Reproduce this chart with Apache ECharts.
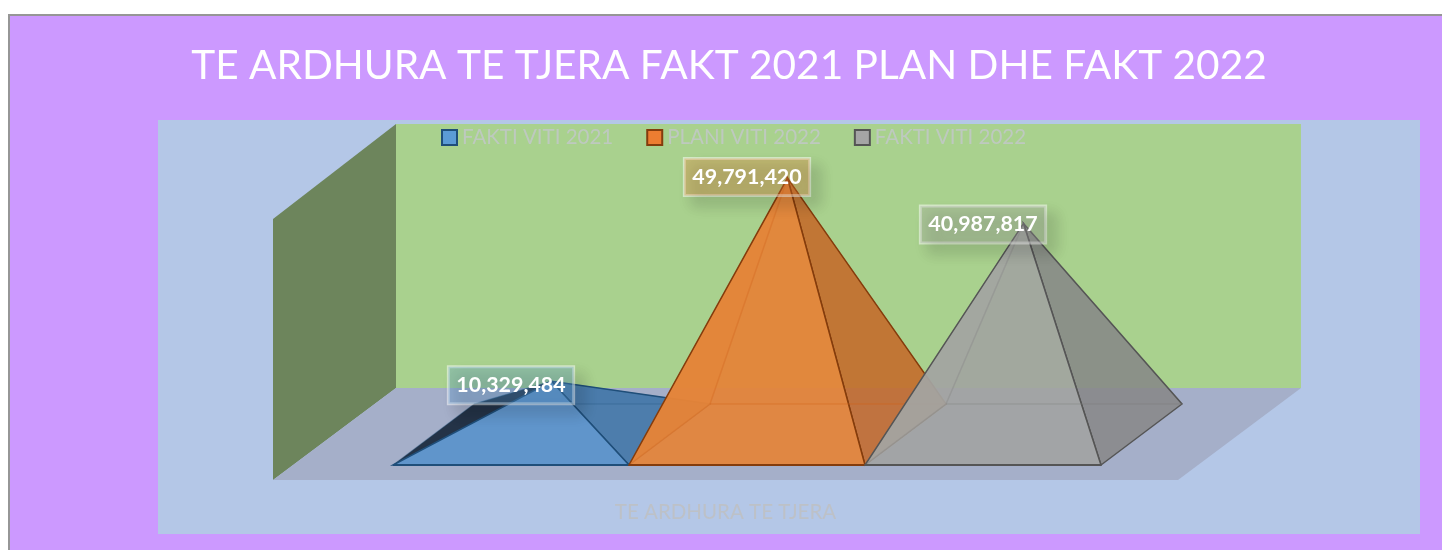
<!DOCTYPE html>
<html>
<head>
<meta charset="utf-8">
<style>
html,body{margin:0;padding:0;background:#fff;}
#chart{width:1442px;height:550px;}
</style>
<script src="https://cdn.jsdelivr.net/npm/echarts@6/dist/echarts.min.js"></script>
</head>
<body>
<div id="chart"></div>
<script>
var chartTitle = 'TE ARDHURA TE TJERA FAKT 2021 PLAN DHE FAKT 2022';
var categories = ['TE ARDHURA TE TJERA'];
var seriesNames = ['FAKTI VITI 2021', 'PLANI VITI 2022', 'FAKTI VITI 2022'];
var faktMs2021 = [10329484];
var planMs2022 = [49791420];
var faktMs2022 = [40987817];

// ngjyrat e piramidave
var looks = [
    {front: 'rgba(92,148,203,.95)', side: 'rgba(68,120,168,.9)', left: 'rgba(25,40,60,.92)', back: 'rgba(60,110,160,.3)', edge: '#1f4e79', inner: 'rgba(31,78,121,.2)', legend: '#5b9bd5', box: 'rgba(91,155,213,.3)', nudge: 4},
    {front: 'rgba(229,131,55,.92)', side: 'rgba(196,105,40,.85)', left: 'rgba(229,131,60,.6)', back: 'rgba(190,95,35,.12)', edge: '#843c0c', inner: 'rgba(205,100,30,.3)', legend: '#ed7d31', box: 'rgba(237,125,49,.3)', nudge: -1},
    {front: 'rgba(162,163,160,.88)', side: 'rgba(135,135,135,.85)', left: 'rgba(180,175,170,.5)', back: 'rgba(125,125,125,.1)', edge: '#555555', inner: 'rgba(125,125,125,.25)', legend: '#a5a5a5', box: 'rgba(165,165,165,.3)', nudge: 1}
];
var depthX = 81, depthY = 61;

function pyramid(idx) {
    return function (params, api) {
        var look = looks[idx];
        var center = api.coord([0, 0]);
        var top = api.coord([0, api.value(1)]);
        var w = api.size([1, 0])[0] / 3;
        var cx = center[0] + (idx - 1) * w;
        var cy = center[1];
        var fl = [cx - w / 2, cy + depthY / 2];
        var fr = [cx + w / 2, cy + depthY / 2];
        var bl = [fl[0] + depthX, cy - depthY / 2];
        var br = [fr[0] + depthX, cy - depthY / 2];
        var apex = [cx + depthX / 2, top[1]];
        function face(a, b, c, fill, stroke, lw) {
            return {type: 'polygon', shape: {points: [a, b, c]}, style: {fill: fill, stroke: stroke, lineWidth: lw}};
        }
        function innerLine(a, b) {
            return {type: 'line', shape: {x1: a[0], y1: a[1], x2: b[0], y2: b[1]}, style: {stroke: look.inner, lineWidth: 1.5}};
        }
        return {
            type: 'group',
            children: [
                face(bl, br, apex, look.back, look.inner, 1),
                face(fl, bl, apex, look.left, look.inner, 1),
                face(fr, br, apex, look.side, look.edge, 1.5),
                face(fl, fr, apex, look.front, look.edge, 1.5),
                innerLine(fl, bl),
                innerLine(bl, br),
                innerLine(bl, apex),
                {type: 'line', shape: {x1: fl[0], y1: fl[1], x2: fr[0], y2: fr[1]}, style: {stroke: look.edge, lineWidth: 2}},
                {
                    type: 'text',
                    z2: 100,
                    style: {
                        text: echarts.format.addCommas(api.value(1)),
                        x: cx, y: top[1] + look.nudge,
                        align: 'center', verticalAlign: 'middle',
                        fill: '#fff',
                        font: 'bold 21.4px Lato, sans-serif',
                        backgroundColor: look.box,
                        borderColor: 'rgba(255,255,255,.5)',
                        borderWidth: 1.5,
                        padding: [8, 8, 8, 8],
                        shadowBlur: 14,
                        shadowColor: 'rgba(0,0,0,.38)',
                        shadowOffsetX: 9,
                        shadowOffsetY: 9
                    }
                }
            ]
        };
    };
}

function makeSeries(i, values) {
    return {
        type: 'custom',
        name: seriesNames[i],
        clip: false,
        z: 3 + i,
        itemStyle: {color: looks[i].legend},
        renderItem: pyramid(i),
        encode: {x: 0, y: 1},
        data: values.map(function (v, k) { return [k, v]; })
    };
}

var chart = echarts.init(document.getElementById('chart'));
chart.setOption({
    backgroundColor: '#fff',
    animation: false,
    title: {
        text: chartTitle,
        left: 724,
        top: 40,
        textAlign: 'center',
        textStyle: {color: '#fff', fontSize: 40.6, fontWeight: 'normal', fontFamily: 'Lato, sans-serif'}
    },
    legend: {
        left: 436,
        top: 122,
        itemWidth: 15,
        itemHeight: 15,
        itemGap: 33,
        textStyle: {color: 'rgba(198,198,210,.72)', fontSize: 20.5, fontFamily: 'Lato, sans-serif'},
        data: seriesNames.map(function (n, i) {
            return {name: n, icon: 'rect', itemStyle: {color: looks[i].legend, borderColor: looks[i].edge, borderWidth: 2}};
        })
    },
    grid: {left: 393, width: 708, top: 125.5, height: 309},
    xAxis: {
        type: 'category',
        data: categories,
        axisLine: {show: false},
        axisTick: {show: false},
        axisLabel: {
            color: 'rgba(191,191,191,.8)',
            fontSize: 20.5,
            fontFamily: 'Lato, sans-serif',
            margin: 67,
            padding: [0, 43, 0, 0]
        }
    },
    yAxis: {type: 'value', min: 0, max: 60000000, show: false},
    graphic: {
        elements: [
            {type: 'rect', z: -10, silent: true, shape: {x: 9, y: 15, width: 1440, height: 540}, style: {fill: '#cc99ff', stroke: '#969696', lineWidth: 2}},
            {type: 'rect', z: -9, silent: true, shape: {x: 158, y: 120, width: 1262, height: 414}, style: {fill: '#b4c7e7'}},
            {type: 'rect', z: -8, silent: true, shape: {x: 396, y: 124, width: 905, height: 264}, style: {fill: '#a9d18e'}},
            {type: 'polygon', z: -8, silent: true, shape: {points: [[273, 219], [396, 124], [396, 388], [273, 480]]}, style: {fill: '#6d855c'}},
            {type: 'polygon', z: -8, silent: true, shape: {points: [[273, 480], [396, 388], [1301, 388], [1178, 480]]}, style: {fill: '#a5afc9'}}
        ]
    },
    series: [makeSeries(0, faktMs2021), makeSeries(1, planMs2022), makeSeries(2, faktMs2022)]
});
</script>
</body>
</html>
